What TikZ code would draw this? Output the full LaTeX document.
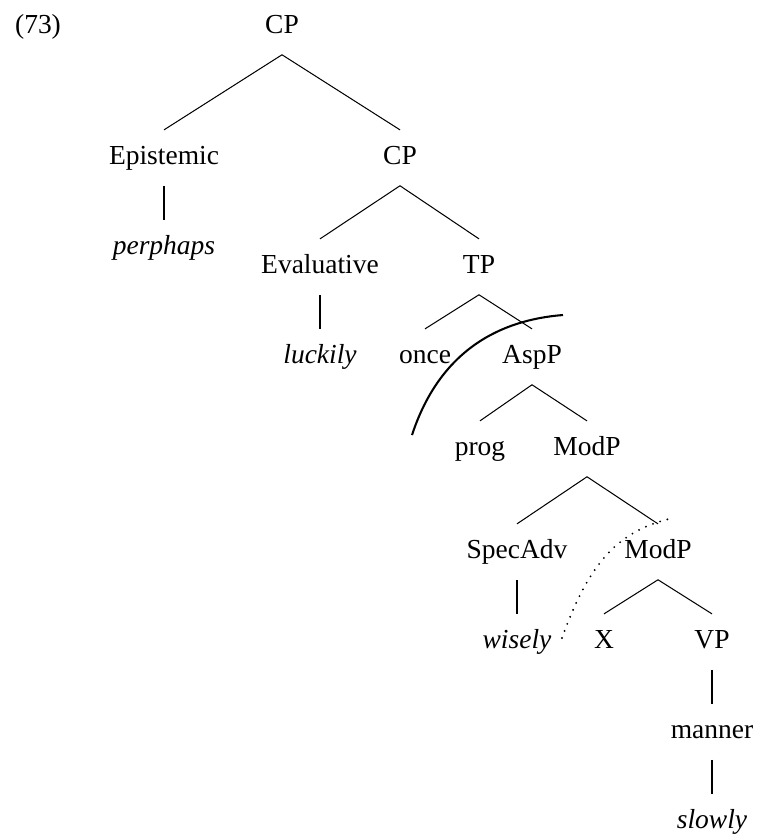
\documentclass[tikz,border=0pt]{standalone}
\usepackage{fontspec}
\setmainfont{Liberation Serif}

\begin{document}
\begin{tikzpicture}[
    x=0.4364pt, y=-0.4364pt,
    cat/.style={anchor=base, font=\fontsize{12}{14}\selectfont, text height=8.4pt, text depth=3pt, inner xsep=1pt, inner ysep=6.3pt},
    word/.style={cat, font=\fontsize{12}{14}\selectfont\itshape},
    branch/.style={line width=0.45pt}
]
\useasboundingbox (0,0) rectangle (757,838);

% Example number
\node[cat] (num) at (38,33) {(73)};

% Tree nodes
\node[cat] (cp) at (282,33) {CP};
\node[cat] (epi) at (164,164) {Epistemic};
\node[cat] (cpb) at (400,164) {CP};
\node[word] (perhaps) at (164,254) {perphaps};
\node[cat] (eval) at (320,273) {Evaluative};
\node[cat] (tp) at (479,273) {TP};
\node[word] (luckily) at (320,363) {luckily};
\node[cat] (once) at (425,363) {once};
\node[cat] (asp) at (532,363) {AspP};
\node[cat] (prog) at (480,455) {prog};
\node[cat] (mod) at (587,455) {ModP};
\node[cat] (spec) at (517,558) {SpecAdv};
\node[cat] (modb) at (658,558) {ModP};
\node[word] (wisely) at (517,648) {wisely};
\node[cat] (x) at (604,648) {X};
\node[cat] (vp) at (712,648) {VP};
\node[cat] (manner) at (712,738) {manner};
\node[word] (slowly) at (712,828) {slowly};

% Branches
\foreach \a/\b in {cp/epi, cp/cpb, epi/perhaps, cpb/eval, cpb/tp, eval/luckily,
    tp/once, tp/asp, asp/prog, asp/mod, mod/spec, mod/modb, spec/wisely,
    modb/x, modb/vp, vp/manner, manner/slowly}
    \draw[branch] (\a.south) -- (\b.north);

% Scope boundaries
\draw[line width=0.9pt] (412,435) .. controls (440,350) and (500,320) .. (563,315);
\draw[line width=0.9pt, line cap=round, dash pattern=on 0pt off 3.3pt] (562,638) .. controls (590,560) and (620,530) .. (673,518);

\end{tikzpicture}
\end{document}
